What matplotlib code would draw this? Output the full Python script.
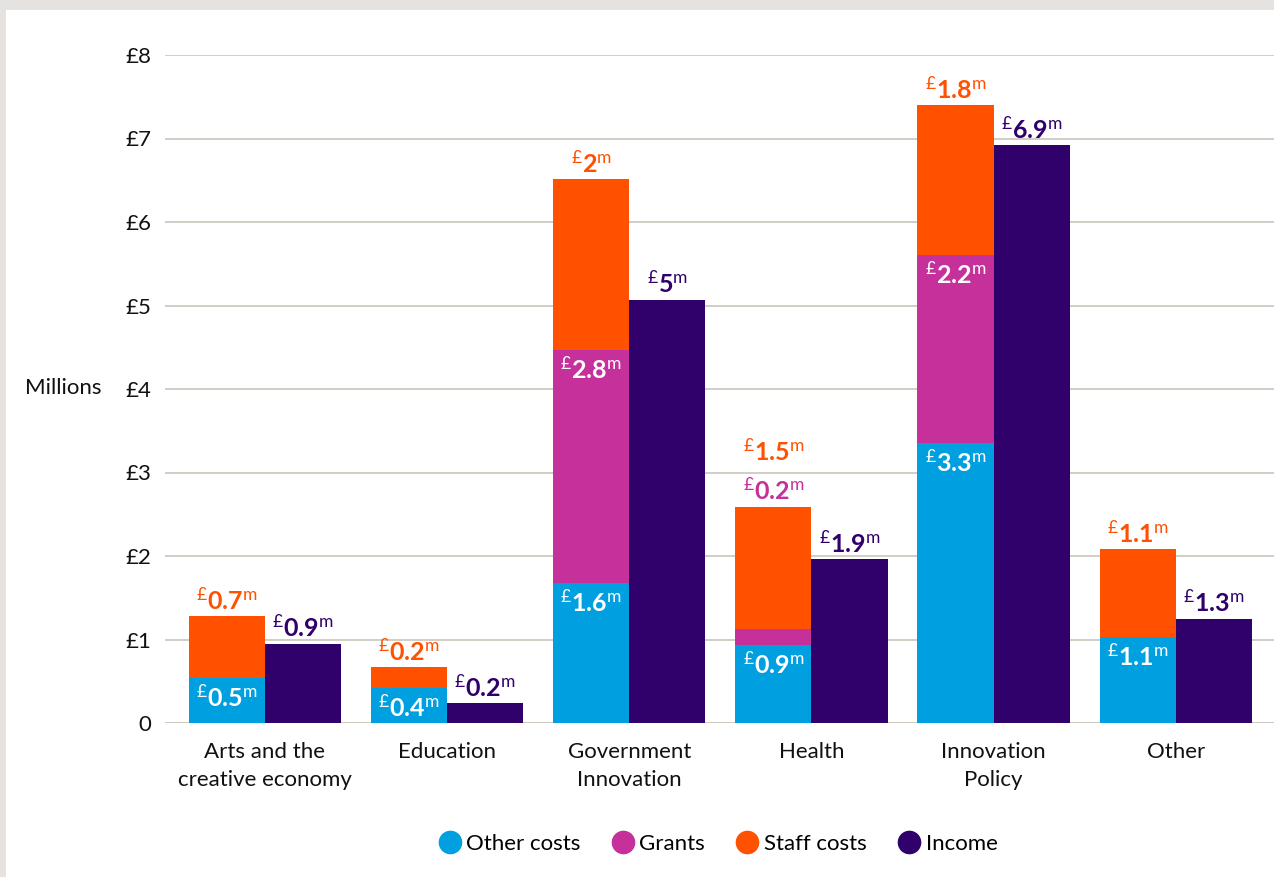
import matplotlib.pyplot as plt
from matplotlib.patches import Rectangle
from matplotlib.lines import Line2D
import numpy as np

plt.rcParams['font.family'] = ['Lato', 'DejaVu Sans']
plt.rcParams['mathtext.fontset'] = 'custom'
plt.rcParams['mathtext.rm'] = 'Lato'
plt.rcParams['mathtext.it'] = 'Lato'
plt.rcParams['mathtext.bf'] = 'Lato:bold'

categories = ['Arts and the\ncreative economy', 'Education', 'Government\nInnovation',
              'Health', 'Innovation\nPolicy', 'Other']
other_costs = [0.54, 0.42, 1.68, 0.93, 3.35, 1.03]
grants = [0.0, 0.0, 2.79, 0.19, 2.25, 0.0]
staff_costs = [0.74, 0.25, 2.04, 1.47, 1.80, 1.05]
income = [0.95, 0.24, 5.07, 1.96, 6.92, 1.25]

other_labels = ['0.5', '0.4', '1.6', '0.9', '3.3', '1.1']
grants_labels = ['', '', '2.8', '0.2', '2.2', '']
staff_labels = ['0.7', '0.2', '2', '1.5', '1.8', '1.1']
income_labels = ['0.9', '0.2', '5', '1.9', '6.9', '1.3']

yticks = [0, 1, 2, 3, 4, 5, 6, 7, 8]
ytick_labels = ['0', '£1', '£2', '£3', '£4', '£5', '£6', '£7', '£8']

c_other = '#009FDF'
c_grants = '#C5309A'
c_staff = '#FF5100'
c_income = '#30006B'
c_grid = '#CFC9C0'


def money(v):
    return r'$^{£}\mathbf{' + v + r'}^{\mathrm{m}}$'


fig = plt.figure(figsize=(12.74, 8.77), dpi=100, facecolor='#E6E2DF')
fig.patches.append(Rectangle((6 / 1274, 0), 1, 1 - 10 / 877, transform=fig.transFigure,
                             facecolor='white', edgecolor='none', zorder=-1))
ax = fig.add_axes([165 / 1274, 1 - 723 / 877, 1 - 165 / 1274, (723 - 55) / 877])
ax.set_facecolor('none')

x = np.arange(len(categories))
w = 0.418
other_costs = np.array(other_costs)
grants = np.array(grants)
staff_costs = np.array(staff_costs)
income = np.array(income)

ax.bar(x - w / 2, other_costs, w, color=c_other, zorder=2)
ax.bar(x - w / 2, grants, w, bottom=other_costs, color=c_grants, zorder=2)
ax.bar(x - w / 2, staff_costs, w, bottom=other_costs + grants, color=c_staff, zorder=2)
ax.bar(x + w / 2, income, w, color=c_income, zorder=2)

fs = 18
for i in range(len(categories)):
    xs = x[i] - w / 2
    xi = x[i] + w / 2
    top_stack = other_costs[i] + grants[i] + staff_costs[i]
    ax.annotate(money(other_labels[i]), (xs, other_costs[i]), xytext=(0, -14),
                textcoords='offset points', ha='center', va='center', color='white',
                fontsize=fs, zorder=3)
    above = 11.5
    if grants_labels[i]:
        if grants[i] > 0.5:
            ax.annotate(money(grants_labels[i]), (xs, other_costs[i] + grants[i]),
                        xytext=(0, -14), textcoords='offset points', ha='center',
                        va='center', color='white', fontsize=fs, zorder=3)
        else:
            ax.annotate(money(grants_labels[i]), (xs, top_stack), xytext=(0, above),
                        textcoords='offset points', ha='center', va='center',
                        color=c_grants, fontsize=fs, zorder=3)
            above = 40
    ax.annotate(money(staff_labels[i]), (xs, top_stack), xytext=(0, above),
                textcoords='offset points', ha='center', va='center', color=c_staff,
                fontsize=fs, zorder=3, annotation_clip=False)
    ax.annotate(money(income_labels[i]), (xi, income[i]), xytext=(0, 11.5),
                textcoords='offset points', ha='center', va='center', color=c_income,
                fontsize=fs, zorder=3, annotation_clip=False)

ax.set_xlim(-0.549, 5.54)
ax.set_ylim(0, 8)
ax.set_yticks(yticks)
ax.set_yticklabels(ytick_labels)
ax.set_xticks(x)
ax.set_xticklabels(categories, linespacing=1.45)
ax.tick_params(axis='both', length=0, labelsize=16, colors='#111111')
ax.tick_params(axis='y', pad=10)
ax.tick_params(axis='x', pad=14)
ax.yaxis.grid(True, color=c_grid, linewidth=1.3, zorder=0)
ax.set_axisbelow(True)
for s in ax.spines.values():
    s.set_visible(False)
ax.axhline(0, color=c_grid, linewidth=2, zorder=1)

fig.text(25 / 1274, 1 - 388 / 877, 'Millions', fontsize=16, ha='left', va='center',
         color='#111111')

handles = [Line2D([], [], marker='o', linestyle='none', markersize=16, color=c)
           for c in [c_other, c_grants, c_staff, c_income]]
fig.legend(handles, ['Other costs', 'Grants', 'Staff costs', 'Income'], loc='center',
           bbox_to_anchor=(718 / 1274, 1 - 844 / 877), ncol=4, frameon=False,
           fontsize=16, handletextpad=0.25, columnspacing=1.4, handlelength=1.0)

fig.savefig('out.png', dpi=100, facecolor=fig.get_facecolor())
